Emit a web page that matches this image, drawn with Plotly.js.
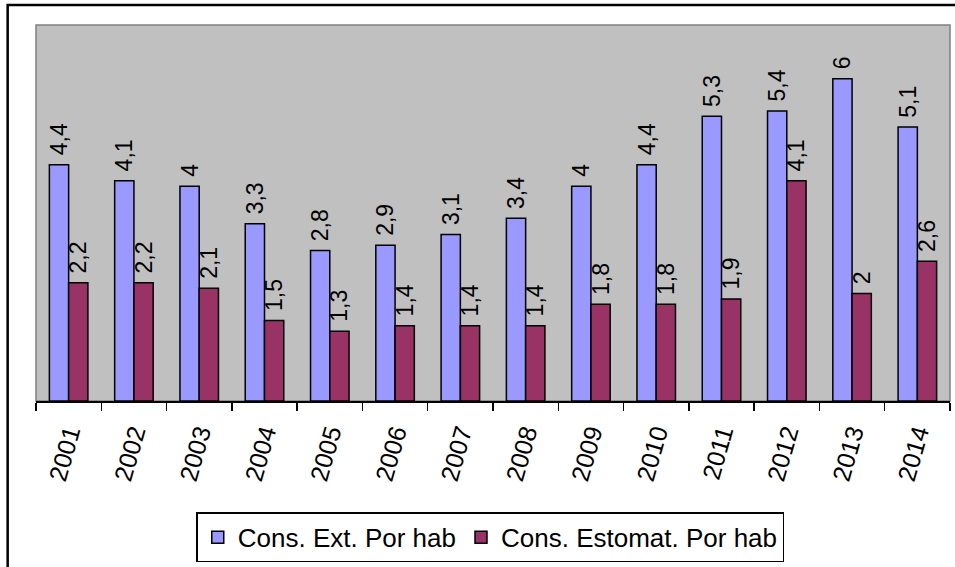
<!DOCTYPE html>
<html>
<head>
<meta charset="utf-8">
<script src="https://cdn.plot.ly/plotly-3.0.1.min.js"></script>
<style>
html,body{margin:0;padding:0;background:#fff;}
#chart{width:955px;height:567px;}
</style>
</head>
<body>
<div id="chart"></div>
<script>
const years = ['2001','2002','2003','2004','2005','2006','2007','2008','2009','2010','2011','2012','2013','2014'];
const consExt = [4.4, 4.1, 4.0, 3.3, 2.8, 2.9, 3.1, 3.4, 4.0, 4.4, 5.3, 5.4, 6.0, 5.1];
const consEstomat = [2.2, 2.2, 2.1, 1.5, 1.3, 1.4, 1.4, 1.4, 1.8, 1.8, 1.9, 4.1, 2.0, 2.6];
const seriesNames = ['Cons. Ext. Por hab', 'Cons. Estomat. Por hab'];

const fmt = v => ' ' + String(v).replace('.', ',');
const FONT = 'Liberation Sans, Arial, sans-serif';

function barTrace(name, vals, color) {
  return {
    type: 'bar',
    name: name,
    x: years,
    y: vals,
    text: vals.map(fmt),
    textposition: 'outside',
    textangle: -90,
    constraintext: 'none',
    cliponaxis: false,
    textfont: {family: FONT, size: 23, color: '#000'},
    marker: {color: color, line: {color: '#000', width: 1.5}},
    hoverinfo: 'x+y'
  };
}

const data = [
  barTrace(seriesNames[0], consExt, '#9999FF'),
  barTrace(seriesNames[1], consEstomat, '#993366')
];

const layout = {
  width: 955, height: 567,
  margin: {l: 36, r: 5, t: 25, b: 164},
  paper_bgcolor: '#ffffff',
  plot_bgcolor: '#C0C0C0',
  barmode: 'group',
  bargap: 0.41,
  bargroupgap: 0,
  font: {family: FONT, color: '#000'},
  showlegend: true,
  legend: {
    orientation: 'h',
    x: 0.497, xanchor: 'center',
    y: -0.296, yanchor: 'top',
    bordercolor: '#000', borderwidth: 1.5,
    bgcolor: '#fff',
    font: {family: FONT, size: 26, color: '#000'},
    itemwidth: 30
  },
  xaxis: {
    type: 'category',
    showgrid: false,
    zeroline: false,
    showline: true, linecolor: '#000', linewidth: 1.5,
    ticks: 'outside', ticklen: 8, tickcolor: '#000', tickwidth: 1.5,
    tickson: 'boundaries',
    tickangle: -74,
    ticklabelstandoff: 6,
    tickfont: {family: FONT, size: 25, color: '#000'}
  },
  yaxis: {
    range: [0, 7],
    showgrid: false, zeroline: false, showline: false,
    showticklabels: false, ticks: ''
  },
  shapes: [
    {type: 'rect', xref: 'paper', yref: 'paper', x0: 0, x1: 1, y0: 0, y1: 1,
     line: {color: '#808080', width: 1.5}, layer: 'below'},
    {type: 'rect', xref: 'paper', yref: 'paper', x0: -0.031, x1: 1.2, y0: -0.6, y1: 1.053,
     line: {color: '#000', width: 2.5}, fillcolor: 'rgba(0,0,0,0)'}
  ]
};

Plotly.newPlot('chart', data, layout, {displayModeBar: false, staticPlot: true});
</script>
</body>
</html>
